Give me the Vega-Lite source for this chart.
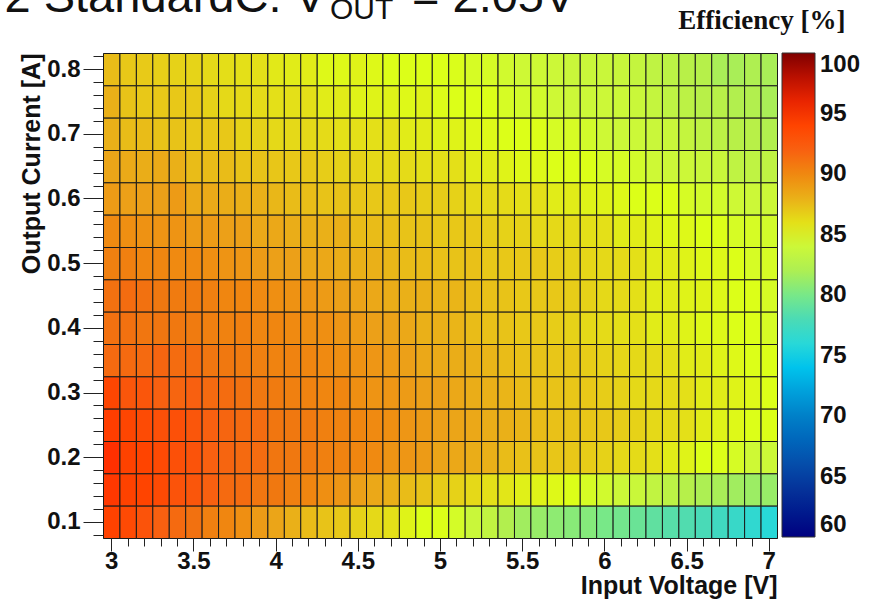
{
  "$schema": "https://vega.github.io/schema/vega-lite/v6.json",
  "width": 674,
  "height": 485,
  "autosize": {"type": "none"},
  "padding": {"left": 103, "top": 53, "right": 113, "bottom": 67},
  "background": "white",
  "config": {"view": {"stroke": "#666", "strokeWidth": 1}},
  "title": {
    "text": "OUT",
    "anchor": "start", "frame": "group",
    "font": "Liberation Sans", "fontSize": 30, "fontWeight": "normal", "color": "#111",
    "baseline": "alphabetic", "offset": -76, "dx": 227
  },
  "data": {"values": [
    {"vin":3,"iout":0.8,"eff":87.5},{"vin":3.1,"iout":0.8,"eff":87},{"vin":3.2,"iout":0.8,"eff":86.9},{"vin":3.3,"iout":0.8,"eff":86.7},{"vin":3.4,"iout":0.8,"eff":86.6},{"vin":3.5,"iout":0.8,"eff":86.5},{"vin":3.6,"iout":0.8,"eff":86.3},{"vin":3.7,"iout":0.8,"eff":86.1},{"vin":3.8,"iout":0.8,"eff":86},{"vin":3.9,"iout":0.8,"eff":86},{"vin":4,"iout":0.8,"eff":85.7},{"vin":4.1,"iout":0.8,"eff":85.6},{"vin":4.2,"iout":0.8,"eff":85.6},{"vin":4.3,"iout":0.8,"eff":85.2},{"vin":4.4,"iout":0.8,"eff":85.2},{"vin":4.5,"iout":0.8,"eff":85.4},{"vin":4.6,"iout":0.8,"eff":85.2},{"vin":4.7,"iout":0.8,"eff":85},{"vin":4.8,"iout":0.8,"eff":85},{"vin":4.9,"iout":0.8,"eff":85},{"vin":5,"iout":0.8,"eff":85},{"vin":5.1,"iout":0.8,"eff":84.9},{"vin":5.2,"iout":0.8,"eff":84.6},{"vin":5.3,"iout":0.8,"eff":84.6},{"vin":5.4,"iout":0.8,"eff":84.3},{"vin":5.5,"iout":0.8,"eff":84.1},{"vin":5.6,"iout":0.8,"eff":84.1},{"vin":5.7,"iout":0.8,"eff":84},{"vin":5.8,"iout":0.8,"eff":83.8},{"vin":5.9,"iout":0.8,"eff":83.8},{"vin":6,"iout":0.8,"eff":83.8},{"vin":6.1,"iout":0.8,"eff":83.7},{"vin":6.2,"iout":0.8,"eff":83.4},{"vin":6.3,"iout":0.8,"eff":83},{"vin":6.4,"iout":0.8,"eff":82.8},{"vin":6.5,"iout":0.8,"eff":82.5},{"vin":6.6,"iout":0.8,"eff":82.4},{"vin":6.7,"iout":0.8,"eff":81.8},{"vin":6.8,"iout":0.8,"eff":81.8},{"vin":6.9,"iout":0.8,"eff":82.1},{"vin":7,"iout":0.8,"eff":81.8},
    {"vin":3,"iout":0.75,"eff":88},{"vin":3.1,"iout":0.75,"eff":87.2},{"vin":3.2,"iout":0.75,"eff":87},{"vin":3.3,"iout":0.75,"eff":87},{"vin":3.4,"iout":0.75,"eff":87},{"vin":3.5,"iout":0.75,"eff":86.9},{"vin":3.6,"iout":0.75,"eff":86.6},{"vin":3.7,"iout":0.75,"eff":86.3},{"vin":3.8,"iout":0.75,"eff":86.3},{"vin":3.9,"iout":0.75,"eff":86.2},{"vin":4,"iout":0.75,"eff":86},{"vin":4.1,"iout":0.75,"eff":86},{"vin":4.2,"iout":0.75,"eff":86},{"vin":4.3,"iout":0.75,"eff":85.6},{"vin":4.4,"iout":0.75,"eff":85.6},{"vin":4.5,"iout":0.75,"eff":85.4},{"vin":4.6,"iout":0.75,"eff":85.4},{"vin":4.7,"iout":0.75,"eff":85.4},{"vin":4.8,"iout":0.75,"eff":85.2},{"vin":4.9,"iout":0.75,"eff":85.4},{"vin":5,"iout":0.75,"eff":85.1},{"vin":5.1,"iout":0.75,"eff":85},{"vin":5.2,"iout":0.75,"eff":85},{"vin":5.3,"iout":0.75,"eff":85},{"vin":5.4,"iout":0.75,"eff":84.6},{"vin":5.5,"iout":0.75,"eff":84.4},{"vin":5.6,"iout":0.75,"eff":84.4},{"vin":5.7,"iout":0.75,"eff":84.1},{"vin":5.8,"iout":0.75,"eff":84},{"vin":5.9,"iout":0.75,"eff":84},{"vin":6,"iout":0.75,"eff":84},{"vin":6.1,"iout":0.75,"eff":84},{"vin":6.2,"iout":0.75,"eff":83.8},{"vin":6.3,"iout":0.75,"eff":83.4},{"vin":6.4,"iout":0.75,"eff":83},{"vin":6.5,"iout":0.75,"eff":82.8},{"vin":6.6,"iout":0.75,"eff":82.5},{"vin":6.7,"iout":0.75,"eff":82.5},{"vin":6.8,"iout":0.75,"eff":82.2},{"vin":6.9,"iout":0.75,"eff":82.2},{"vin":7,"iout":0.75,"eff":81.8},
    {"vin":3,"iout":0.7,"eff":88},{"vin":3.1,"iout":0.7,"eff":87.5},{"vin":3.2,"iout":0.7,"eff":87.5},{"vin":3.3,"iout":0.7,"eff":87.2},{"vin":3.4,"iout":0.7,"eff":87.2},{"vin":3.5,"iout":0.7,"eff":87},{"vin":3.6,"iout":0.7,"eff":87},{"vin":3.7,"iout":0.7,"eff":87},{"vin":3.8,"iout":0.7,"eff":86.6},{"vin":3.9,"iout":0.7,"eff":86.6},{"vin":4,"iout":0.7,"eff":86.3},{"vin":4.1,"iout":0.7,"eff":86.3},{"vin":4.2,"iout":0.7,"eff":86.3},{"vin":4.3,"iout":0.7,"eff":86.2},{"vin":4.4,"iout":0.7,"eff":86},{"vin":4.5,"iout":0.7,"eff":86},{"vin":4.6,"iout":0.7,"eff":86},{"vin":4.7,"iout":0.7,"eff":86},{"vin":4.8,"iout":0.7,"eff":85.6},{"vin":4.9,"iout":0.7,"eff":85.6},{"vin":5,"iout":0.7,"eff":85.4},{"vin":5.1,"iout":0.7,"eff":85.4},{"vin":5.2,"iout":0.7,"eff":85.2},{"vin":5.3,"iout":0.7,"eff":85.2},{"vin":5.4,"iout":0.7,"eff":85},{"vin":5.5,"iout":0.7,"eff":85},{"vin":5.6,"iout":0.7,"eff":85},{"vin":5.7,"iout":0.7,"eff":84.6},{"vin":5.8,"iout":0.7,"eff":84.6},{"vin":5.9,"iout":0.7,"eff":84.4},{"vin":6,"iout":0.7,"eff":84.1},{"vin":6.1,"iout":0.7,"eff":84},{"vin":6.2,"iout":0.7,"eff":84},{"vin":6.3,"iout":0.7,"eff":83.8},{"vin":6.4,"iout":0.7,"eff":83.8},{"vin":6.5,"iout":0.7,"eff":83.4},{"vin":6.6,"iout":0.7,"eff":83},{"vin":6.7,"iout":0.7,"eff":82.8},{"vin":6.8,"iout":0.7,"eff":82.5},{"vin":6.9,"iout":0.7,"eff":82.5},{"vin":7,"iout":0.7,"eff":82.2},
    {"vin":3,"iout":0.65,"eff":88.7},{"vin":3.1,"iout":0.65,"eff":88.4},{"vin":3.2,"iout":0.65,"eff":88.2},{"vin":3.3,"iout":0.65,"eff":88.4},{"vin":3.4,"iout":0.65,"eff":88},{"vin":3.5,"iout":0.65,"eff":87.5},{"vin":3.6,"iout":0.65,"eff":87.5},{"vin":3.7,"iout":0.65,"eff":87.5},{"vin":3.8,"iout":0.65,"eff":87.2},{"vin":3.9,"iout":0.65,"eff":87.2},{"vin":4,"iout":0.65,"eff":87.1},{"vin":4.1,"iout":0.65,"eff":87},{"vin":4.2,"iout":0.65,"eff":87},{"vin":4.3,"iout":0.65,"eff":86.8},{"vin":4.4,"iout":0.65,"eff":86.6},{"vin":4.5,"iout":0.65,"eff":86.6},{"vin":4.6,"iout":0.65,"eff":86.3},{"vin":4.7,"iout":0.65,"eff":86.3},{"vin":4.8,"iout":0.65,"eff":86.2},{"vin":4.9,"iout":0.65,"eff":86},{"vin":5,"iout":0.65,"eff":86},{"vin":5.1,"iout":0.65,"eff":86},{"vin":5.2,"iout":0.65,"eff":85.6},{"vin":5.3,"iout":0.65,"eff":85.6},{"vin":5.4,"iout":0.65,"eff":85.4},{"vin":5.5,"iout":0.65,"eff":85.2},{"vin":5.6,"iout":0.65,"eff":85.2},{"vin":5.7,"iout":0.65,"eff":85},{"vin":5.8,"iout":0.65,"eff":85},{"vin":5.9,"iout":0.65,"eff":85},{"vin":6,"iout":0.65,"eff":84.6},{"vin":6.1,"iout":0.65,"eff":84.6},{"vin":6.2,"iout":0.65,"eff":84.4},{"vin":6.3,"iout":0.65,"eff":84.1},{"vin":6.4,"iout":0.65,"eff":84},{"vin":6.5,"iout":0.65,"eff":84},{"vin":6.6,"iout":0.65,"eff":83.8},{"vin":6.7,"iout":0.65,"eff":83.8},{"vin":6.8,"iout":0.65,"eff":83},{"vin":6.9,"iout":0.65,"eff":83},{"vin":7,"iout":0.65,"eff":83},
    {"vin":3,"iout":0.6,"eff":89.2},{"vin":3.1,"iout":0.6,"eff":89},{"vin":3.2,"iout":0.6,"eff":89},{"vin":3.3,"iout":0.6,"eff":89},{"vin":3.4,"iout":0.6,"eff":89.2},{"vin":3.5,"iout":0.6,"eff":88.4},{"vin":3.6,"iout":0.6,"eff":88.4},{"vin":3.7,"iout":0.6,"eff":88.2},{"vin":3.8,"iout":0.6,"eff":88},{"vin":3.9,"iout":0.6,"eff":88},{"vin":4,"iout":0.6,"eff":87.7},{"vin":4.1,"iout":0.6,"eff":87.5},{"vin":4.2,"iout":0.6,"eff":87.4},{"vin":4.3,"iout":0.6,"eff":87.2},{"vin":4.4,"iout":0.6,"eff":87.2},{"vin":4.5,"iout":0.6,"eff":87.1},{"vin":4.6,"iout":0.6,"eff":87},{"vin":4.7,"iout":0.6,"eff":87},{"vin":4.8,"iout":0.6,"eff":87},{"vin":4.9,"iout":0.6,"eff":86.8},{"vin":5,"iout":0.6,"eff":86.8},{"vin":5.1,"iout":0.6,"eff":86.6},{"vin":5.2,"iout":0.6,"eff":86.3},{"vin":5.3,"iout":0.6,"eff":86.3},{"vin":5.4,"iout":0.6,"eff":86.2},{"vin":5.5,"iout":0.6,"eff":86},{"vin":5.6,"iout":0.6,"eff":86},{"vin":5.7,"iout":0.6,"eff":85.6},{"vin":5.8,"iout":0.6,"eff":85.6},{"vin":5.9,"iout":0.6,"eff":85.4},{"vin":6,"iout":0.6,"eff":85.4},{"vin":6.1,"iout":0.6,"eff":85.2},{"vin":6.2,"iout":0.6,"eff":85},{"vin":6.3,"iout":0.6,"eff":85},{"vin":6.4,"iout":0.6,"eff":85},{"vin":6.5,"iout":0.6,"eff":84.6},{"vin":6.6,"iout":0.6,"eff":84.4},{"vin":6.7,"iout":0.6,"eff":84.4},{"vin":6.8,"iout":0.6,"eff":84.1},{"vin":6.9,"iout":0.6,"eff":84},{"vin":7,"iout":0.6,"eff":84},
    {"vin":3,"iout":0.55,"eff":89.9},{"vin":3.1,"iout":0.55,"eff":89.7},{"vin":3.2,"iout":0.55,"eff":89.6},{"vin":3.3,"iout":0.55,"eff":89.5},{"vin":3.4,"iout":0.55,"eff":89.5},{"vin":3.5,"iout":0.55,"eff":89.2},{"vin":3.6,"iout":0.55,"eff":89.2},{"vin":3.7,"iout":0.55,"eff":89},{"vin":3.8,"iout":0.55,"eff":89},{"vin":3.9,"iout":0.55,"eff":88.5},{"vin":4,"iout":0.55,"eff":88.5},{"vin":4.1,"iout":0.55,"eff":88.2},{"vin":4.2,"iout":0.55,"eff":88},{"vin":4.3,"iout":0.55,"eff":88},{"vin":4.4,"iout":0.55,"eff":88},{"vin":4.5,"iout":0.55,"eff":87.5},{"vin":4.6,"iout":0.55,"eff":87.5},{"vin":4.7,"iout":0.55,"eff":87.4},{"vin":4.8,"iout":0.55,"eff":87.2},{"vin":4.9,"iout":0.55,"eff":87.2},{"vin":5,"iout":0.55,"eff":87},{"vin":5.1,"iout":0.55,"eff":87},{"vin":5.2,"iout":0.55,"eff":87},{"vin":5.3,"iout":0.55,"eff":86.8},{"vin":5.4,"iout":0.55,"eff":86.6},{"vin":5.5,"iout":0.55,"eff":86.6},{"vin":5.6,"iout":0.55,"eff":86.3},{"vin":5.7,"iout":0.55,"eff":86.3},{"vin":5.8,"iout":0.55,"eff":86.2},{"vin":5.9,"iout":0.55,"eff":86},{"vin":6,"iout":0.55,"eff":86},{"vin":6.1,"iout":0.55,"eff":85.6},{"vin":6.2,"iout":0.55,"eff":85.6},{"vin":6.3,"iout":0.55,"eff":85.4},{"vin":6.4,"iout":0.55,"eff":85.2},{"vin":6.5,"iout":0.55,"eff":85.2},{"vin":6.6,"iout":0.55,"eff":85},{"vin":6.7,"iout":0.55,"eff":85},{"vin":6.8,"iout":0.55,"eff":84.6},{"vin":6.9,"iout":0.55,"eff":84.6},{"vin":7,"iout":0.55,"eff":84.4},
    {"vin":3,"iout":0.5,"eff":90.5},{"vin":3.1,"iout":0.5,"eff":90.5},{"vin":3.2,"iout":0.5,"eff":90.1},{"vin":3.3,"iout":0.5,"eff":90.1},{"vin":3.4,"iout":0.5,"eff":89.9},{"vin":3.5,"iout":0.5,"eff":89.9},{"vin":3.6,"iout":0.5,"eff":89.7},{"vin":3.7,"iout":0.5,"eff":89.5},{"vin":3.8,"iout":0.5,"eff":89.4},{"vin":3.9,"iout":0.5,"eff":89.2},{"vin":4,"iout":0.5,"eff":89},{"vin":4.1,"iout":0.5,"eff":89},{"vin":4.2,"iout":0.5,"eff":88.5},{"vin":4.3,"iout":0.5,"eff":88.5},{"vin":4.4,"iout":0.5,"eff":88.2},{"vin":4.5,"iout":0.5,"eff":88},{"vin":4.6,"iout":0.5,"eff":88},{"vin":4.7,"iout":0.5,"eff":87.7},{"vin":4.8,"iout":0.5,"eff":87.5},{"vin":4.9,"iout":0.5,"eff":87.5},{"vin":5,"iout":0.5,"eff":87.3},{"vin":5.1,"iout":0.5,"eff":87.2},{"vin":5.2,"iout":0.5,"eff":87.3},{"vin":5.3,"iout":0.5,"eff":87},{"vin":5.4,"iout":0.5,"eff":87},{"vin":5.5,"iout":0.5,"eff":87},{"vin":5.6,"iout":0.5,"eff":87},{"vin":5.7,"iout":0.5,"eff":86.8},{"vin":5.8,"iout":0.5,"eff":86.6},{"vin":5.9,"iout":0.5,"eff":86.4},{"vin":6,"iout":0.5,"eff":86.3},{"vin":6.1,"iout":0.5,"eff":86.2},{"vin":6.2,"iout":0.5,"eff":86},{"vin":6.3,"iout":0.5,"eff":85.6},{"vin":6.4,"iout":0.5,"eff":85.6},{"vin":6.5,"iout":0.5,"eff":85.4},{"vin":6.6,"iout":0.5,"eff":85.2},{"vin":6.7,"iout":0.5,"eff":85.2},{"vin":6.8,"iout":0.5,"eff":85},{"vin":6.9,"iout":0.5,"eff":84.6},{"vin":7,"iout":0.5,"eff":84.6},
    {"vin":3,"iout":0.45,"eff":91.3},{"vin":3.1,"iout":0.45,"eff":91.5},{"vin":3.2,"iout":0.45,"eff":91.3},{"vin":3.3,"iout":0.45,"eff":91},{"vin":3.4,"iout":0.45,"eff":90.8},{"vin":3.5,"iout":0.45,"eff":90.8},{"vin":3.6,"iout":0.45,"eff":90.5},{"vin":3.7,"iout":0.45,"eff":90.1},{"vin":3.8,"iout":0.45,"eff":90.1},{"vin":3.9,"iout":0.45,"eff":89.9},{"vin":4,"iout":0.45,"eff":89.7},{"vin":4.1,"iout":0.45,"eff":89.6},{"vin":4.2,"iout":0.45,"eff":89.4},{"vin":4.3,"iout":0.45,"eff":89.2},{"vin":4.4,"iout":0.45,"eff":89},{"vin":4.5,"iout":0.45,"eff":88.8},{"vin":4.6,"iout":0.45,"eff":88.5},{"vin":4.7,"iout":0.45,"eff":88.2},{"vin":4.8,"iout":0.45,"eff":88},{"vin":4.9,"iout":0.45,"eff":88},{"vin":5,"iout":0.45,"eff":87.8},{"vin":5.1,"iout":0.45,"eff":87.8},{"vin":5.2,"iout":0.45,"eff":87.5},{"vin":5.3,"iout":0.45,"eff":87.3},{"vin":5.4,"iout":0.45,"eff":87.2},{"vin":5.5,"iout":0.45,"eff":87},{"vin":5.6,"iout":0.45,"eff":87},{"vin":5.7,"iout":0.45,"eff":87},{"vin":5.8,"iout":0.45,"eff":86.8},{"vin":5.9,"iout":0.45,"eff":86.6},{"vin":6,"iout":0.45,"eff":86.3},{"vin":6.1,"iout":0.45,"eff":86.2},{"vin":6.2,"iout":0.45,"eff":86},{"vin":6.3,"iout":0.45,"eff":85.6},{"vin":6.4,"iout":0.45,"eff":85.6},{"vin":6.5,"iout":0.45,"eff":85.4},{"vin":6.6,"iout":0.45,"eff":85.4},{"vin":6.7,"iout":0.45,"eff":85.2},{"vin":6.8,"iout":0.45,"eff":85},{"vin":6.9,"iout":0.45,"eff":85},{"vin":7,"iout":0.45,"eff":84.6},
    {"vin":3,"iout":0.4,"eff":91.3},{"vin":3.1,"iout":0.4,"eff":91.3},{"vin":3.2,"iout":0.4,"eff":91.1},{"vin":3.3,"iout":0.4,"eff":91.1},{"vin":3.4,"iout":0.4,"eff":91},{"vin":3.5,"iout":0.4,"eff":90.8},{"vin":3.6,"iout":0.4,"eff":90.5},{"vin":3.7,"iout":0.4,"eff":90.4},{"vin":3.8,"iout":0.4,"eff":90.5},{"vin":3.9,"iout":0.4,"eff":90.1},{"vin":4,"iout":0.4,"eff":90.1},{"vin":4.1,"iout":0.4,"eff":89.9},{"vin":4.2,"iout":0.4,"eff":89.7},{"vin":4.3,"iout":0.4,"eff":89.7},{"vin":4.4,"iout":0.4,"eff":89.4},{"vin":4.5,"iout":0.4,"eff":89.2},{"vin":4.6,"iout":0.4,"eff":89},{"vin":4.7,"iout":0.4,"eff":88.8},{"vin":4.8,"iout":0.4,"eff":88.5},{"vin":4.9,"iout":0.4,"eff":88},{"vin":5,"iout":0.4,"eff":88},{"vin":5.1,"iout":0.4,"eff":87.8},{"vin":5.2,"iout":0.4,"eff":87.5},{"vin":5.3,"iout":0.4,"eff":87.3},{"vin":5.4,"iout":0.4,"eff":87.2},{"vin":5.5,"iout":0.4,"eff":87},{"vin":5.6,"iout":0.4,"eff":87},{"vin":5.7,"iout":0.4,"eff":86.8},{"vin":5.8,"iout":0.4,"eff":86.6},{"vin":5.9,"iout":0.4,"eff":86.3},{"vin":6,"iout":0.4,"eff":86.2},{"vin":6.1,"iout":0.4,"eff":86},{"vin":6.2,"iout":0.4,"eff":86},{"vin":6.3,"iout":0.4,"eff":85.6},{"vin":6.4,"iout":0.4,"eff":85.6},{"vin":6.5,"iout":0.4,"eff":85.4},{"vin":6.6,"iout":0.4,"eff":85.2},{"vin":6.7,"iout":0.4,"eff":85.2},{"vin":6.8,"iout":0.4,"eff":85},{"vin":6.9,"iout":0.4,"eff":85},{"vin":7,"iout":0.4,"eff":84.6},
    {"vin":3,"iout":0.35,"eff":91.6},{"vin":3.1,"iout":0.35,"eff":91.6},{"vin":3.2,"iout":0.35,"eff":91.6},{"vin":3.3,"iout":0.35,"eff":91.8},{"vin":3.4,"iout":0.35,"eff":91.5},{"vin":3.5,"iout":0.35,"eff":91.5},{"vin":3.6,"iout":0.35,"eff":91.1},{"vin":3.7,"iout":0.35,"eff":91},{"vin":3.8,"iout":0.35,"eff":90.8},{"vin":3.9,"iout":0.35,"eff":90.5},{"vin":4,"iout":0.35,"eff":90.3},{"vin":4.1,"iout":0.35,"eff":90.3},{"vin":4.2,"iout":0.35,"eff":90.1},{"vin":4.3,"iout":0.35,"eff":89.9},{"vin":4.4,"iout":0.35,"eff":89.7},{"vin":4.5,"iout":0.35,"eff":89.6},{"vin":4.6,"iout":0.35,"eff":89.4},{"vin":4.7,"iout":0.35,"eff":89.2},{"vin":4.8,"iout":0.35,"eff":89},{"vin":4.9,"iout":0.35,"eff":88.5},{"vin":5,"iout":0.35,"eff":88.4},{"vin":5.1,"iout":0.35,"eff":88.2},{"vin":5.2,"iout":0.35,"eff":88},{"vin":5.3,"iout":0.35,"eff":87.8},{"vin":5.4,"iout":0.35,"eff":87.5},{"vin":5.5,"iout":0.35,"eff":87.3},{"vin":5.6,"iout":0.35,"eff":87.2},{"vin":5.7,"iout":0.35,"eff":87.1},{"vin":5.8,"iout":0.35,"eff":87},{"vin":5.9,"iout":0.35,"eff":86.8},{"vin":6,"iout":0.35,"eff":86.6},{"vin":6.1,"iout":0.35,"eff":86.4},{"vin":6.2,"iout":0.35,"eff":86.3},{"vin":6.3,"iout":0.35,"eff":86.2},{"vin":6.4,"iout":0.35,"eff":86},{"vin":6.5,"iout":0.35,"eff":85.6},{"vin":6.6,"iout":0.35,"eff":85.6},{"vin":6.7,"iout":0.35,"eff":85.4},{"vin":6.8,"iout":0.35,"eff":85.2},{"vin":6.9,"iout":0.35,"eff":85},{"vin":7,"iout":0.35,"eff":85},
    {"vin":3,"iout":0.3,"eff":93.8},{"vin":3.1,"iout":0.3,"eff":92.6},{"vin":3.2,"iout":0.3,"eff":92.6},{"vin":3.3,"iout":0.3,"eff":92},{"vin":3.4,"iout":0.3,"eff":91.8},{"vin":3.5,"iout":0.3,"eff":92},{"vin":3.6,"iout":0.3,"eff":91.6},{"vin":3.7,"iout":0.3,"eff":91.5},{"vin":3.8,"iout":0.3,"eff":91.3},{"vin":3.9,"iout":0.3,"eff":91},{"vin":4,"iout":0.3,"eff":90.8},{"vin":4.1,"iout":0.3,"eff":90.5},{"vin":4.2,"iout":0.3,"eff":90.3},{"vin":4.3,"iout":0.3,"eff":90.1},{"vin":4.4,"iout":0.3,"eff":90.1},{"vin":4.5,"iout":0.3,"eff":89.7},{"vin":4.6,"iout":0.3,"eff":89.5},{"vin":4.7,"iout":0.3,"eff":89.4},{"vin":4.8,"iout":0.3,"eff":89.2},{"vin":4.9,"iout":0.3,"eff":89},{"vin":5,"iout":0.3,"eff":89},{"vin":5.1,"iout":0.3,"eff":88.5},{"vin":5.2,"iout":0.3,"eff":88.2},{"vin":5.3,"iout":0.3,"eff":88},{"vin":5.4,"iout":0.3,"eff":87.8},{"vin":5.5,"iout":0.3,"eff":87.5},{"vin":5.6,"iout":0.3,"eff":87.3},{"vin":5.7,"iout":0.3,"eff":87.2},{"vin":5.8,"iout":0.3,"eff":87.1},{"vin":5.9,"iout":0.3,"eff":87},{"vin":6,"iout":0.3,"eff":86.8},{"vin":6.1,"iout":0.3,"eff":86.6},{"vin":6.2,"iout":0.3,"eff":86.3},{"vin":6.3,"iout":0.3,"eff":86.3},{"vin":6.4,"iout":0.3,"eff":86.2},{"vin":6.5,"iout":0.3,"eff":86},{"vin":6.6,"iout":0.3,"eff":85.6},{"vin":6.7,"iout":0.3,"eff":85.6},{"vin":6.8,"iout":0.3,"eff":85.4},{"vin":6.9,"iout":0.3,"eff":85.2},{"vin":7,"iout":0.3,"eff":85},
    {"vin":3,"iout":0.25,"eff":94.3},{"vin":3.1,"iout":0.25,"eff":93.8},{"vin":3.2,"iout":0.25,"eff":93.4},{"vin":3.3,"iout":0.25,"eff":93},{"vin":3.4,"iout":0.25,"eff":93},{"vin":3.5,"iout":0.25,"eff":92.6},{"vin":3.6,"iout":0.25,"eff":92},{"vin":3.7,"iout":0.25,"eff":91.8},{"vin":3.8,"iout":0.25,"eff":91.6},{"vin":3.9,"iout":0.25,"eff":91.5},{"vin":4,"iout":0.25,"eff":91.1},{"vin":4.1,"iout":0.25,"eff":91},{"vin":4.2,"iout":0.25,"eff":90.8},{"vin":4.3,"iout":0.25,"eff":90.5},{"vin":4.4,"iout":0.25,"eff":90.3},{"vin":4.5,"iout":0.25,"eff":90.1},{"vin":4.6,"iout":0.25,"eff":89.9},{"vin":4.7,"iout":0.25,"eff":89.7},{"vin":4.8,"iout":0.25,"eff":89.4},{"vin":4.9,"iout":0.25,"eff":89.2},{"vin":5,"iout":0.25,"eff":89},{"vin":5.1,"iout":0.25,"eff":88.7},{"vin":5.2,"iout":0.25,"eff":88.5},{"vin":5.3,"iout":0.25,"eff":88.2},{"vin":5.4,"iout":0.25,"eff":88},{"vin":5.5,"iout":0.25,"eff":87.8},{"vin":5.6,"iout":0.25,"eff":87.5},{"vin":5.7,"iout":0.25,"eff":87.3},{"vin":5.8,"iout":0.25,"eff":87.2},{"vin":5.9,"iout":0.25,"eff":87.1},{"vin":6,"iout":0.25,"eff":87},{"vin":6.1,"iout":0.25,"eff":86.8},{"vin":6.2,"iout":0.25,"eff":86.6},{"vin":6.3,"iout":0.25,"eff":86.3},{"vin":6.4,"iout":0.25,"eff":86.2},{"vin":6.5,"iout":0.25,"eff":86},{"vin":6.6,"iout":0.25,"eff":85.6},{"vin":6.7,"iout":0.25,"eff":85.4},{"vin":6.8,"iout":0.25,"eff":85.2},{"vin":6.9,"iout":0.25,"eff":85},{"vin":7,"iout":0.25,"eff":85},
    {"vin":3,"iout":0.2,"eff":95},{"vin":3.1,"iout":0.2,"eff":94.1},{"vin":3.2,"iout":0.2,"eff":94},{"vin":3.3,"iout":0.2,"eff":93.5},{"vin":3.4,"iout":0.2,"eff":93},{"vin":3.5,"iout":0.2,"eff":92.8},{"vin":3.6,"iout":0.2,"eff":92},{"vin":3.7,"iout":0.2,"eff":91.8},{"vin":3.8,"iout":0.2,"eff":91.6},{"vin":3.9,"iout":0.2,"eff":91.5},{"vin":4,"iout":0.2,"eff":91.1},{"vin":4.1,"iout":0.2,"eff":91},{"vin":4.2,"iout":0.2,"eff":90.8},{"vin":4.3,"iout":0.2,"eff":90.5},{"vin":4.4,"iout":0.2,"eff":90.3},{"vin":4.5,"iout":0.2,"eff":90.1},{"vin":4.6,"iout":0.2,"eff":89.9},{"vin":4.7,"iout":0.2,"eff":89.5},{"vin":4.8,"iout":0.2,"eff":89.4},{"vin":4.9,"iout":0.2,"eff":89.2},{"vin":5,"iout":0.2,"eff":88.7},{"vin":5.1,"iout":0.2,"eff":88.5},{"vin":5.2,"iout":0.2,"eff":88.2},{"vin":5.3,"iout":0.2,"eff":88},{"vin":5.4,"iout":0.2,"eff":87.5},{"vin":5.5,"iout":0.2,"eff":87.3},{"vin":5.6,"iout":0.2,"eff":87.2},{"vin":5.7,"iout":0.2,"eff":87.1},{"vin":5.8,"iout":0.2,"eff":87},{"vin":5.9,"iout":0.2,"eff":86.8},{"vin":6,"iout":0.2,"eff":86.6},{"vin":6.1,"iout":0.2,"eff":86.3},{"vin":6.2,"iout":0.2,"eff":86.2},{"vin":6.3,"iout":0.2,"eff":86},{"vin":6.4,"iout":0.2,"eff":85.6},{"vin":6.5,"iout":0.2,"eff":85.4},{"vin":6.6,"iout":0.2,"eff":85},{"vin":6.7,"iout":0.2,"eff":85},{"vin":6.8,"iout":0.2,"eff":84.6},{"vin":6.9,"iout":0.2,"eff":84.1},{"vin":7,"iout":0.2,"eff":84},
    {"vin":3,"iout":0.15,"eff":94.6},{"vin":3.1,"iout":0.15,"eff":94.1},{"vin":3.2,"iout":0.15,"eff":94},{"vin":3.3,"iout":0.15,"eff":93.5},{"vin":3.4,"iout":0.15,"eff":92.8},{"vin":3.5,"iout":0.15,"eff":92.6},{"vin":3.6,"iout":0.15,"eff":92},{"vin":3.7,"iout":0.15,"eff":91.6},{"vin":3.8,"iout":0.15,"eff":91.5},{"vin":3.9,"iout":0.15,"eff":91.1},{"vin":4,"iout":0.15,"eff":91},{"vin":4.1,"iout":0.15,"eff":90.5},{"vin":4.2,"iout":0.15,"eff":90.1},{"vin":4.3,"iout":0.15,"eff":89.7},{"vin":4.4,"iout":0.15,"eff":89.4},{"vin":4.5,"iout":0.15,"eff":89},{"vin":4.6,"iout":0.15,"eff":88.5},{"vin":4.7,"iout":0.15,"eff":88},{"vin":4.8,"iout":0.15,"eff":87.5},{"vin":4.9,"iout":0.15,"eff":87.2},{"vin":5,"iout":0.15,"eff":86.8},{"vin":5.1,"iout":0.15,"eff":86.6},{"vin":5.2,"iout":0.15,"eff":86.3},{"vin":5.3,"iout":0.15,"eff":86},{"vin":5.4,"iout":0.15,"eff":85.8},{"vin":5.5,"iout":0.15,"eff":85.5},{"vin":5.6,"iout":0.15,"eff":85.4},{"vin":5.7,"iout":0.15,"eff":85.2},{"vin":5.8,"iout":0.15,"eff":85},{"vin":5.9,"iout":0.15,"eff":84.6},{"vin":6,"iout":0.15,"eff":84.3},{"vin":6.1,"iout":0.15,"eff":84},{"vin":6.2,"iout":0.15,"eff":83.8},{"vin":6.3,"iout":0.15,"eff":83.2},{"vin":6.4,"iout":0.15,"eff":82.8},{"vin":6.5,"iout":0.15,"eff":82.4},{"vin":6.6,"iout":0.15,"eff":82},{"vin":6.7,"iout":0.15,"eff":81.8},{"vin":6.8,"iout":0.15,"eff":81.4},{"vin":6.9,"iout":0.15,"eff":81.2},{"vin":7,"iout":0.15,"eff":81},
    {"vin":3,"iout":0.1,"eff":94.1},{"vin":3.1,"iout":0.1,"eff":93.5},{"vin":3.2,"iout":0.1,"eff":92.8},{"vin":3.3,"iout":0.1,"eff":92},{"vin":3.4,"iout":0.1,"eff":91.6},{"vin":3.5,"iout":0.1,"eff":91.3},{"vin":3.6,"iout":0.1,"eff":90.5},{"vin":3.7,"iout":0.1,"eff":90.1},{"vin":3.8,"iout":0.1,"eff":89.7},{"vin":3.9,"iout":0.1,"eff":89.2},{"vin":4,"iout":0.1,"eff":88.7},{"vin":4.1,"iout":0.1,"eff":88},{"vin":4.2,"iout":0.1,"eff":87.5},{"vin":4.3,"iout":0.1,"eff":87.2},{"vin":4.4,"iout":0.1,"eff":87},{"vin":4.5,"iout":0.1,"eff":86.6},{"vin":4.6,"iout":0.1,"eff":86.3},{"vin":4.7,"iout":0.1,"eff":86},{"vin":4.8,"iout":0.1,"eff":85.4},{"vin":4.9,"iout":0.1,"eff":85},{"vin":5,"iout":0.1,"eff":85},{"vin":5.1,"iout":0.1,"eff":84.5},{"vin":5.2,"iout":0.1,"eff":83.8},{"vin":5.3,"iout":0.1,"eff":83.2},{"vin":5.4,"iout":0.1,"eff":82.2},{"vin":5.5,"iout":0.1,"eff":81.4},{"vin":5.6,"iout":0.1,"eff":81},{"vin":5.7,"iout":0.1,"eff":80.7},{"vin":5.8,"iout":0.1,"eff":80.5},{"vin":5.9,"iout":0.1,"eff":80.4},{"vin":6,"iout":0.1,"eff":80},{"vin":6.1,"iout":0.1,"eff":79.8},{"vin":6.2,"iout":0.1,"eff":79.4},{"vin":6.3,"iout":0.1,"eff":79},{"vin":6.4,"iout":0.1,"eff":78.6},{"vin":6.5,"iout":0.1,"eff":78.3},{"vin":6.6,"iout":0.1,"eff":77.9},{"vin":6.7,"iout":0.1,"eff":77.5},{"vin":6.8,"iout":0.1,"eff":77},{"vin":6.9,"iout":0.1,"eff":76.5},{"vin":7,"iout":0.1,"eff":76}
  ]},
  "layer": [
    {
      "mark": {"type": "rect", "stroke": "#1a1a1a", "strokeWidth": 1, "binSpacing": 0},
      "encoding": {
        "x": {
          "field": "vin", "type": "quantitative",
          "bin": {"step": 0.1, "anchor": 2.95, "extent": [2.95, 7.05], "nice": false},
          "scale": {"domain": [2.95, 7.05], "nice": false, "zero": false},
          "axis": {
            "orient": "bottom",
            "values": [3,3.1,3.2,3.3,3.4,3.5,3.6,3.7,3.8,3.9,4,4.1,4.2,4.3,4.4,4.5,4.6,4.7,4.8,4.9,5,5.1,5.2,5.3,5.4,5.5,5.6,5.7,5.8,5.9,6,6.1,6.2,6.3,6.4,6.5,6.6,6.7,6.8,6.9,7],
            "labelExpr": "datum.value % 0.5 === 0 ? format(datum.value, '~g') : ''",
            "tickSize": {"condition": {"test": "datum.value % 0.5 === 0", "value": 13}, "value": 8},
            "tickColor": "#222", "tickWidth": 1,
            "domain": false, "grid": false,
            "labelFont": "Liberation Sans", "labelFontSize": 24, "labelFontWeight": "bold", "labelColor": "#111",
            "labelPadding": -2, "labelOverlap": false, "labelFlush": false, "labelBound": false,
            "title": "Input Voltage [V]",
            "titleFont": "Liberation Sans", "titleFontSize": 25, "titleFontWeight": "bold", "titleColor": "#111",
            "titleAlign": "right", "titleBaseline": "alphabetic", "titleAngle": 0,
            "titleX": 674, "titleY": 55
          }
        },
        "y": {
          "field": "iout", "type": "quantitative",
          "bin": {"step": 0.05, "anchor": 0.075, "extent": [0.075, 0.825], "nice": false},
          "scale": {"domain": [0.075, 0.825], "nice": false, "zero": false},
          "axis": {
            "orient": "left",
            "values": [0.08,0.1,0.12,0.14,0.16,0.18,0.2,0.22,0.24,0.26,0.28,0.3,0.32,0.34,0.36,0.38,0.4,0.42,0.44,0.46,0.48,0.5,0.52,0.54,0.56,0.58,0.6,0.62,0.64,0.66,0.68,0.7,0.72,0.74,0.76,0.78,0.8,0.82],
            "labelExpr": "abs(datum.value * 10 - round(datum.value * 10)) < 0.001 ? format(datum.value, '.1f') : ''",
            "tickSize": {"condition": {"test": "abs(datum.value * 10 - round(datum.value * 10)) < 0.001", "value": 20}, "value": 10},
            "tickColor": "#222", "tickWidth": 1,
            "domain": false, "grid": false,
            "labelFont": "Liberation Sans", "labelFontSize": 24, "labelFontWeight": "bold", "labelColor": "#111",
            "labelPadding": 3, "labelOverlap": false, "labelFlush": false, "labelBound": false,
            "title": "Output Current [A]",
            "titleFont": "Liberation Sans", "titleFontSize": 25, "titleFontWeight": "bold", "titleColor": "#111",
            "titleAlign": "right", "titleBaseline": "alphabetic", "titleAngle": -90,
            "titleX": -64, "titleY": 0
          }
        },
        "color": {
          "field": "eff", "type": "quantitative",
          "scale": {
            "type": "linear",
            "interpolate": "rgb",
            "domain": [60, 62.5, 65, 67.5, 70, 72.5, 74.5, 76, 77.5, 79, 80, 81, 82.5, 84, 85, 86, 87, 88, 89, 90, 91, 92, 93, 94, 95, 97.5, 100],
            "range": ["#000080", "#002090", "#0840a0", "#0060b8", "#0080c8", "#00a8e0", "#00ccf0", "#28d8d8", "#40d8c0", "#60e0a0", "#78e888", "#98ec68", "#b8f048", "#ccf838", "#dcff18", "#e4e018", "#e8c818", "#eab018", "#eca018", "#f08810", "#f07810", "#f86010", "#fc5008", "#ff4400", "#ff3000", "#c81400", "#800000"]
          },
          "legend": {
            "orient": "none", "direction": "vertical",
            "legendX": 679, "legendY": 0,
            "padding": 0,
            "title": null,
            "gradientLength": 484, "gradientThickness": 33,
            "gradientStrokeColor": "#333", "gradientStrokeWidth": 1,
            "values": [60, 65, 70, 75, 80, 85, 90, 95, 100],
            "labelFont": "Liberation Sans", "labelFontSize": 24, "labelFontWeight": "bold", "labelColor": "#111",
            "labelBaseline": "middle", "labelOffset": 5, "labelOverlap": false
          }
        }
      }
    },
    {
      "mark": {"type": "rect", "opacity": 0, "binSpacing": 0},
      "encoding": {
        "x": {
          "field": "vin", "type": "quantitative",
          "bin": {"step": 0.1, "anchor": 2.95, "extent": [2.95, 7.05], "nice": false},
          "scale": {"domain": [2.95, 7.05], "nice": false, "zero": false},
          "axis": {
            "orient": "top", "ticks": false, "labels": false, "domain": false, "grid": false,
            "title": "2 StandardC: V\u2003\u2002\u2004= 2.05V",
            "titleFont": "Liberation Sans", "titleFontSize": 47, "titleFontWeight": "normal", "titleColor": "#111",
            "titleAlign": "left", "titleBaseline": "alphabetic", "titleAngle": 0,
            "titleX": -99, "titleY": -42
          }
        },
        "y": {
          "field": "iout", "type": "quantitative",
          "bin": {"step": 0.05, "anchor": 0.075, "extent": [0.075, 0.825], "nice": false},
          "scale": {"domain": [0.075, 0.825], "nice": false, "zero": false},
          "axis": {
            "orient": "right", "ticks": false, "labels": false, "domain": false, "grid": false,
            "title": "Efficiency [%]",
            "titleFont": "Liberation Serif", "titleFontSize": 27, "titleFontWeight": "bold", "titleColor": "#111",
            "titleAlign": "right", "titleBaseline": "alphabetic", "titleAngle": 0,
            "titleX": 68, "titleY": -25
          }
        }
      }
    }
  ],
  "resolve": {"axis": {"x": "independent", "y": "independent"}}
}
